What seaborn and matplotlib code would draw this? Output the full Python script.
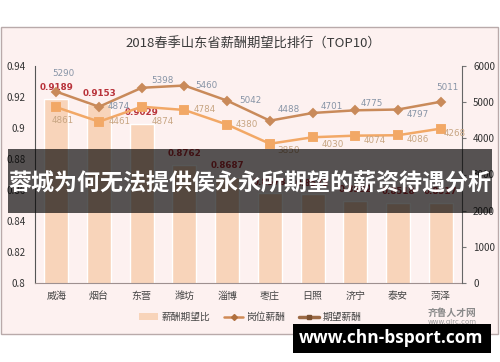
import matplotlib
matplotlib.use("Agg")
import matplotlib.pyplot as plt
import seaborn as sns
import numpy as np
from matplotlib.patches import Rectangle, Patch
from matplotlib.lines import Line2D

# ---------------- data ----------------
cities = ["威海", "烟台", "东营", "潍坊", "淄博", "枣庄", "日照", "济宁", "泰安", "菏泽"]
ratio = [0.9189, 0.9153, 0.9029, 0.8762, 0.8687, 0.8578, 0.8573, 0.8532, 0.8518, 0.8517]
expected_salary = [5290, 4874, 5398, 5460, 5042, 4488, 4701, 4775, 4797, 5011]
position_salary = [4861, 4461, 4874, 4784, 4380, 3850, 4030, 4074, 4086, 4268]
left_ticks = [0.8, 0.82, 0.84, 0.86, 0.88, 0.9, 0.92, 0.94]
right_ticks = [0, 1000, 2000, 3000, 4000, 5000, 6000]
title = "2018春季山东省薪酬期望比排行（TOP10）"
legend_labels = ["薪酬期望比", "岗位薪酬", "期望薪酬"]
banner_text = "蓉城为何无法提供侯永永所期望的薪资待遇分析"
watermark_text = "www.chn-bsport.com"

# label offsets in pixels (dx, dy with dy downward)
up_off = [(7, -18), (20, 0), (21, -7), (22, 0), (23, 0), (19, -11), (19, -6), (17, -7), (20, 5), (7, -14)]
low_off = [(6, 13), (21, 0), (21, 15), (20, 0), (20, 0), (19, 7), (20, 7), (19, 5), (20, 4), (14, 5)]

# ---------------- style ----------------
sns.set_theme(style="white")
plt.rcParams['font.family'] = ['Noto Sans CJK SC', 'DejaVu Sans']

W, H = 500, 362
fig = plt.figure(figsize=(W / 100, H / 100), dpi=100)
fig.patch.set_facecolor("white")

def fx(px):
    return px / W

def fy(py):
    return 1 - py / H

pink = "#fdf1f0"
bar_color = "#f8d4ba"
up_color = "#c98a5a"
low_color = "#f2a866"

# outer frame
frame = Rectangle((fx(1), fy(334)), fx(497), (334 - 27) / H, transform=fig.transFigure,
                  facecolor=pink, edgecolor="#b9aaaa", linewidth=1.0, zorder=-10)
fig.add_artist(frame)

ax = fig.add_axes([fx(35), fy(283), fx(462 - 35), (283 - 66) / H])
ax.set_facecolor("none")

sns.barplot(x=cities, y=ratio, ax=ax, color=bar_color, saturation=1, width=0.56)
ax.set_ylim(0.8, 0.94)
ax.set_yticks(left_ticks)
ax.set_yticklabels(["0.8", "0.82", "0.84", "0.86", "0.88", "0.9", "0.92", "0.94"])
ax.tick_params(axis="y", length=0, pad=7, labelsize=7, labelcolor="#333333")
ax.tick_params(axis="x", length=0, pad=5.5, labelsize=7.2, labelcolor="#444444")
ax.set_xlabel("")
ax.set_ylabel("")
for s in ["top", "right"]:
    ax.spines[s].set_visible(False)
ax.spines["left"].set_color("#555555")
ax.spines["left"].set_linewidth(0.8)
ax.spines["bottom"].set_color("#9e9090")
ax.spines["bottom"].set_linewidth(0.8)

for i, v in enumerate(ratio):
    ax.annotate(f"{v:.4f}", (i, v), xytext=(0, 11 * 0.72), textcoords="offset points",
                ha="center", va="center", fontsize=6.3, fontweight="bold",
                color="#b8323a", family="DejaVu Sans", zorder=5)

ax2 = ax.twinx()
sns.pointplot(x=cities, y=expected_salary, ax=ax2, color=up_color, markers="D",
              markersize=4.5, linewidth=1.8, errorbar=None)
sns.pointplot(x=cities, y=position_salary, ax=ax2, color=low_color, markers="s",
              markersize=6, linewidth=1.8, errorbar=None)
ax2.set_ylim(0, 6000)
ax2.set_yticks(right_ticks)
ax2.tick_params(axis="y", direction="out", length=3, width=0.8, color="#777777",
                pad=5, labelsize=7, labelcolor="#333333")
ax2.set_xlabel("")
ax2.set_ylabel("")
for s in ["top", "left", "bottom"]:
    ax2.spines[s].set_visible(False)
ax2.spines["right"].set_color("#666666")
ax2.spines["right"].set_linewidth(0.8)
ax2.set_xlim(-0.5, len(cities) - 0.5)
ax.set_xticks(range(len(cities)))
ax.set_xticklabels(cities)

for i, v in enumerate(expected_salary):
    dx, dy = up_off[i]
    ax2.annotate(str(v), (i, v), xytext=(dx * 0.72, -dy * 0.72), textcoords="offset points",
                 ha="center", va="center", fontsize=6.3, color="#8794a6", family="DejaVu Sans")
for i, v in enumerate(position_salary):
    dx, dy = low_off[i]
    ax2.annotate(str(v), (i, v), xytext=(dx * 0.72, -dy * 0.72), textcoords="offset points",
                 ha="center", va="center", fontsize=6.3, color="#c7a582", family="DejaVu Sans")

# title
fig.text(fx(253), fy(44), title, ha="center", va="center", fontsize=9.5, color="#3a3a3a")

# legend
handles = [
    Patch(facecolor=bar_color, edgecolor="none"),
    Line2D([0], [0], color="#d08a55", lw=1.8, marker="D", markersize=3,
           markerfacecolor="#b0703f", markeredgecolor="#b0703f"),
    Line2D([0], [0], color="#9c6a45", lw=2.5, marker="s", markersize=3,
           markerfacecolor="#7a5030", markeredgecolor="#7a5030"),
]
leg = fig.legend(handles, legend_labels, loc="center", bbox_to_anchor=(fx(250), fy(317)), ncol=3,
                 frameon=False, fontsize=7, handlelength=2.0, handletextpad=0.35,
                 columnspacing=1.4, labelcolor="#444444")

# logo text
fig.text(fx(452), fy(313), "齐鲁人才网", ha="center", va="center", fontsize=7, color="#8a8a8a",
         fontweight="bold")
fig.text(fx(452), fy(322), "www.qlrc.com", ha="center", va="center", fontsize=5, color="#9a9a9a",
         family="DejaVu Sans")

# banner overlay
banner = Rectangle((fx(8), fy(213)), fx(492 - 8), (213 - 149) / H, transform=fig.transFigure,
                   facecolor="black", alpha=0.66, edgecolor="none", zorder=20)
fig.add_artist(banner)
fig.text(fx(250), fy(183), banner_text, ha="center", va="center", fontsize=16.6,
         fontweight="bold", color="white", zorder=21)

# watermark
wm = Rectangle((fx(293), fy(353)), fx(491 - 293), (353 - 324) / H, transform=fig.transFigure,
               facecolor="black", edgecolor="none", zorder=20)
fig.add_artist(wm)
fig.text(fx(391), fy(338), watermark_text, ha="center", va="center", fontsize=12.5,
         fontweight="bold", color="white", family="Open Sans", zorder=21)

fig.savefig("out.png", dpi=100, facecolor="white")
